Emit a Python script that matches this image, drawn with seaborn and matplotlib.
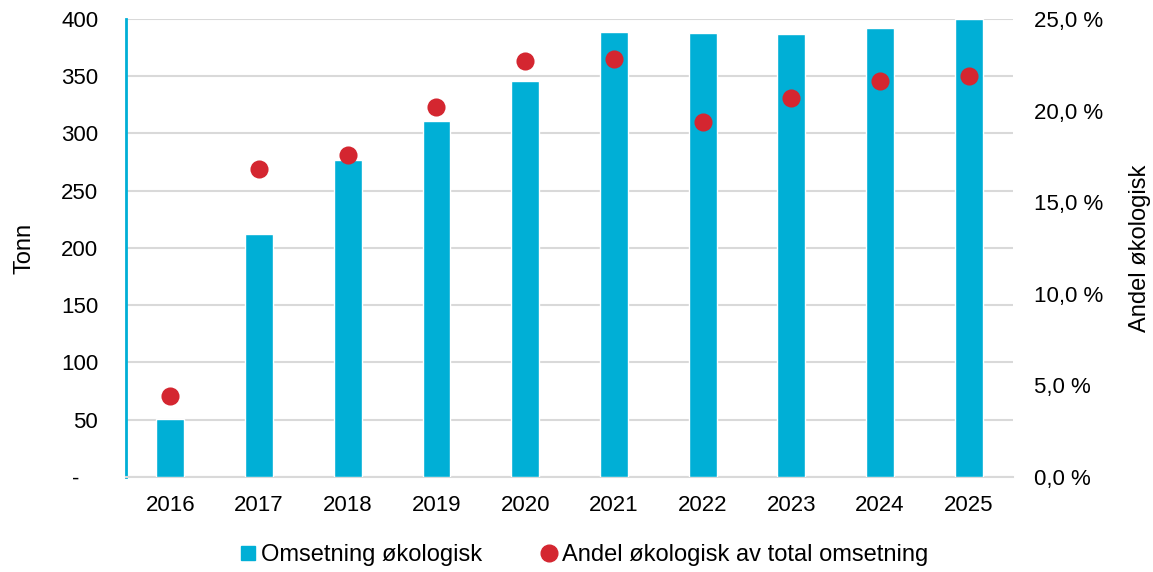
import matplotlib
matplotlib.use("Agg")
import matplotlib.pyplot as plt
from matplotlib.lines import Line2D
from matplotlib.ticker import FixedLocator, FuncFormatter
import seaborn as sns
import pandas as pd

# Data
years = ["2016", "2017", "2018", "2019", "2020", "2021", "2022", "2023", "2024", "2025"]
tonnes = [51, 212, 277, 311, 346, 389, 388, 387, 392, 400]
share_pct = [4.4, 16.8, 17.6, 20.2, 22.7, 22.8, 19.4, 20.7, 21.6, 21.9]

left_ticks = [0, 50, 100, 150, 200, 250, 300, 350, 400]
right_ticks = [0, 5, 10, 15, 20, 25]

BAR = "#00AFD6"
DOT = "#D42630"
GRID = "#D9D9D9"
FS = 16

sns.set_theme(style="white")
plt.rcParams["font.family"] = ["Liberation Sans", "DejaVu Sans"]
plt.rcParams["text.color"] = "black"
plt.rcParams["axes.labelcolor"] = "black"

df = pd.DataFrame({"year": years, "tonnes": tonnes, "share": share_pct})

fig = plt.figure(figsize=(11.53, 5.72), dpi=100)
ax = fig.add_axes([0.1093, 0.1661, 0.7693, 0.8007])

sns.barplot(data=df, x="year", y="tonnes", color=BAR, saturation=1,
            width=0.315, ax=ax, zorder=3)

ax.set_ylim(0, 400)
ax.set_xlim(-0.5, len(years) - 0.5)
ax.yaxis.set_major_locator(FixedLocator(left_ticks))
ax.yaxis.set_major_formatter(FuncFormatter(lambda v, p: "-   " if v == 0 else f"{int(v)}"))
ax.grid(axis="y", color=GRID, linewidth=1.5, zorder=0)
ax.set_axisbelow(True)
ax.set_xlabel("")
ax.set_ylabel("Tonn", fontsize=FS + 1, labelpad=18)
ax.tick_params(axis="both", length=0, labelsize=FS, colors="black")
ax.tick_params(axis="x", pad=13)
ax.tick_params(axis="y", pad=20)

for side in ["top", "right"]:
    ax.spines[side].set_visible(False)
ax.spines["left"].set_color(BAR)
ax.spines["left"].set_linewidth(2)
ax.spines["bottom"].set_color(GRID)
ax.spines["bottom"].set_linewidth(1.5)

ax2 = ax.twinx()
sns.pointplot(data=df, x="year", y="share", color=DOT, linestyle="none",
              markers="o", markersize=11, errorbar=None, ax=ax2, zorder=4)
ax2.set_ylim(0, 25)
ax2.set_xlim(-0.5, len(years) - 0.5)
ax2.yaxis.set_major_locator(FixedLocator(right_ticks))
ax2.yaxis.set_major_formatter(FuncFormatter(lambda v, p: f"{v:.1f}".replace(".", ",") + " %"))
ax2.set_ylabel("Andel økologisk", fontsize=FS + 1, labelpad=19)
ax2.tick_params(axis="y", length=0, labelsize=FS, pad=15, colors="black")
for side in ["top", "right", "left", "bottom"]:
    ax2.spines[side].set_visible(False)
ax2.grid(False)

handles = [
    Line2D([], [], marker="s", linestyle="none", color=BAR, markersize=10),
    Line2D([], [], marker="o", linestyle="none", color=DOT, markersize=12),
]
fig.legend(handles, ["Omsetning økologisk", "Andel økologisk av total omsetning"],
           loc="center", bbox_to_anchor=(0.505, 0.03), ncol=2, frameon=False,
           fontsize=FS + 1, handletextpad=0.05, columnspacing=2.3, handlelength=1.0)

fig.savefig("out.png", dpi=100)
